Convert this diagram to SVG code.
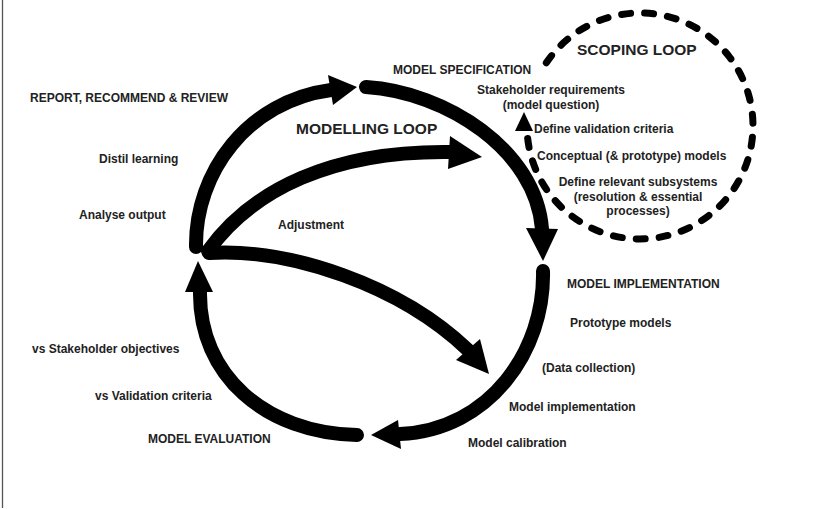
<svg xmlns="http://www.w3.org/2000/svg" width="835" height="509" viewBox="0 0 835 509">
<style>
.t{font-family:"Liberation Sans",Arial,sans-serif;font-weight:bold;font-size:12px;fill:#222}
.big{font-size:15.5px}
.c{text-anchor:middle}
.arc{fill:none;stroke:#000;stroke-width:14;stroke-linecap:round}
.head{fill:#000}
.dash{fill:none;stroke:#000;stroke-width:7;stroke-linecap:round;stroke-dasharray:9 14}
</style>
<rect width="835" height="509" fill="#fff"/>
<line x1="2.5" y1="0" x2="2.5" y2="508" stroke="#555" stroke-width="1.3"/>
<g id="connectors">
  <path class="arc" d="M196,247 C195,172 248,101 331,90"/>
  <polygon class="head" points="357,87 328,75 333,105"/>
  <path class="arc" d="M366,87 C446,92 536,150 542,229"/>
  <polygon class="head" points="543,261 526,228 558,229"/>
  <path class="arc" d="M543,271 C545,350 490,430 400,434"/>
  <polygon class="head" points="371,435 398,420 401,449"/>
  <path class="arc" d="M357,435 C265,433 199,375 200,292"/>
  <polygon class="head" points="198,261 185,292 213,292"/>
  <path class="arc" d="M208,251 C252,190 332,150 452,152"/>
  <polygon class="head" points="482,157 450,136 448,169"/>
  <path class="arc" d="M209,253 C290,248 400,285 468,350"/>
  <polygon class="head" points="489,374 456,360 480,339"/>
  <path class="dash" d="M546.3,62.8 A113,113 0 1 1 527.1,131"/>
  <polygon class="head" points="524,112 515,131 533,131"/>
</g>
<g id="model-specification">
  <text class="t" x="393" y="74">MODEL SPECIFICATION</text>
</g>
<g id="modelling-loop">
  <text class="t big" x="296" y="134">MODELLING LOOP</text>
</g>
<g id="scoping-loop">
  <text class="t big" x="577" y="55">SCOPING LOOP</text>
  <text class="t c" x="551" y="94">Stakeholder requirements</text>
  <text class="t c" x="551" y="109">(model question)</text>
  <text class="t" x="534" y="133">Define validation criteria</text>
  <text class="t" x="537" y="160">Conceptual (&amp; prototype) models</text>
  <text class="t c" x="638" y="186">Define relevant subsystems</text>
  <text class="t c" x="638" y="201">(resolution &amp; essential</text>
  <text class="t c" x="638" y="215">processes)</text>
</g>
<g id="report">
  <text class="t" x="30" y="102">REPORT, RECOMMEND &amp; REVIEW</text>
  <text class="t" x="99" y="163">Distil learning</text>
  <text class="t" x="79" y="219">Analyse output</text>
</g>
<g id="adjustment">
  <text class="t" x="278" y="229">Adjustment</text>
</g>
<g id="model-implementation">
  <text class="t" x="567" y="288">MODEL IMPLEMENTATION</text>
  <text class="t" x="570" y="327">Prototype models</text>
  <text class="t" x="542" y="372">(Data collection)</text>
  <text class="t" x="509" y="411">Model implementation</text>
  <text class="t" x="468" y="447">Model calibration</text>
</g>
<g id="model-evaluation">
  <text class="t" x="32" y="353">vs Stakeholder objectives</text>
  <text class="t" x="95" y="400">vs Validation criteria</text>
  <text class="t" x="148" y="443">MODEL EVALUATION</text>
</g>
</svg>
